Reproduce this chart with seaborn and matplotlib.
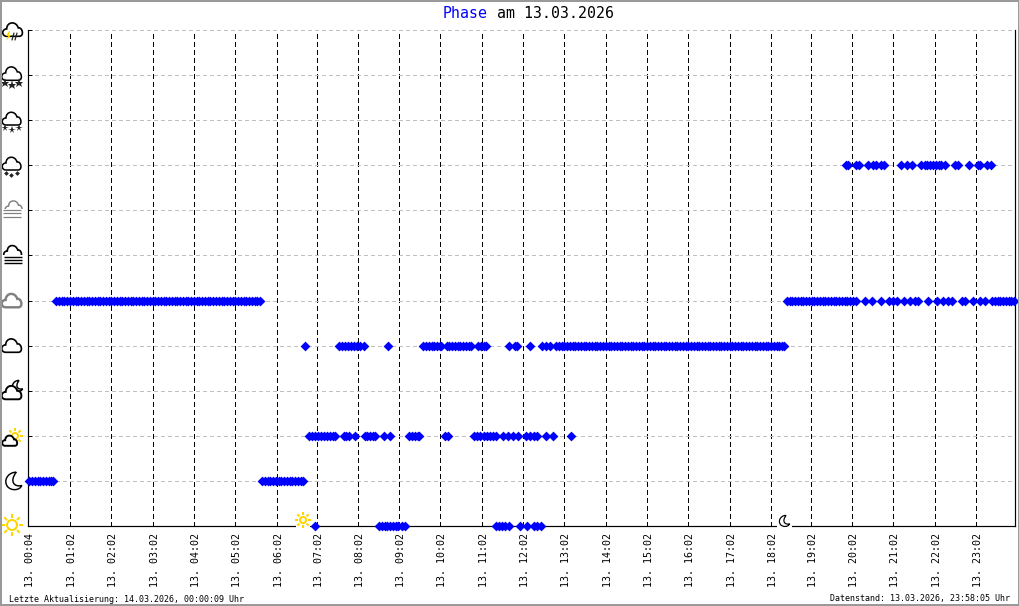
import numpy as np
import pandas as pd
import matplotlib
matplotlib.use("Agg")
import matplotlib.pyplot as plt
from matplotlib.path import Path
from matplotlib.patches import PathPatch, Circle, Polygon, Rectangle
from matplotlib.transforms import ScaledTranslation
import seaborn as sns

# x is minutes of the day, y is the index of the weather phase (0 = sun ... 11 = thunderstorm)
level_0 = [421, 514, 518, 522, 526, 530, 534, 538, 542, 547, 551, 684, 688, 692, 697, 702,
           718, 729, 739, 743, 749]
level_1 = [6, 10, 14, 18, 22, 26, 30, 34, 38, 41, 344, 348, 352, 356, 360, 364, 368, 372, 376,
           380, 384, 388, 392, 396, 400, 403]
level_2 = [412, 416, 421, 425, 429, 434, 438, 442, 447, 450, 463, 466, 470, 479, 493, 497, 501,
           505, 508, 521, 530, 557, 562, 566, 570, 572, 609, 614, 652, 656, 660, 666, 670, 675,
           679, 684, 694, 701, 708, 715, 727, 733, 739, 743, 756, 766, 792]
level_4 = [406, 456, 460, 464, 469, 473, 477, 482, 486, 492, 527, 578, 582, 586, 590, 594, 598,
           602, 604, 612, 616, 620, 624, 628, 632, 636, 640, 644, 647, 657, 662, 666, 669, 702,
           711, 714, 733, 750, 756, 762, 771, 775, 779, 783, 787, 791, 795, 799, 803, 807, 811,
           815, 819, 823, 827, 831, 835, 839, 843, 847, 851, 855, 859, 863, 867, 871, 875, 879,
           883, 887, 891, 895, 899, 903, 907, 911, 915, 919, 923, 927, 931, 935, 939, 943, 947,
           951, 955, 959, 963, 967, 971, 975, 979, 983, 987, 991, 995, 999, 1003, 1007, 1011,
           1015, 1019, 1023, 1027, 1031, 1035, 1039, 1043, 1047, 1051, 1055, 1059, 1063, 1067,
           1071, 1075, 1079, 1083, 1087, 1091, 1095, 1099, 1102]
level_5 = [45, 49, 53, 57, 61, 65, 69, 73, 77, 81, 85, 89, 93, 97, 101, 105, 109, 113, 117, 121,
           125, 129, 133, 137, 141, 145, 149, 153, 157, 161, 165, 169, 173, 177, 181, 185, 189,
           193, 197, 201, 205, 209, 213, 217, 221, 225, 229, 233, 237, 241, 245, 249, 253, 257,
           261, 265, 269, 273, 277, 281, 285, 289, 293, 297, 301, 305, 309, 313, 317, 321, 325,
           329, 333, 337, 341, 1106, 1110, 1114, 1118, 1122, 1126, 1130, 1134, 1138, 1142, 1146,
           1150, 1154, 1158, 1162, 1166, 1170, 1174, 1178, 1182, 1186, 1190, 1194, 1198, 1202,
           1206, 1219, 1229, 1243, 1254, 1260, 1266, 1276, 1285, 1292, 1296, 1311, 1324, 1333,
           1340, 1346, 1360, 1365, 1376, 1386, 1394, 1404, 1408, 1412, 1416, 1420, 1424, 1428,
           1432, 1436]
level_8 = [1192, 1195, 1206, 1211, 1224, 1231, 1235, 1243, 1247, 1272, 1280, 1288, 1301, 1306,
           1310, 1314, 1318, 1322, 1327, 1330, 1335, 1350, 1354, 1370, 1383, 1386, 1396, 1402]

tick_pos = [4, 65, 124, 185, 245, 305, 366, 424, 483, 543, 602, 663, 723, 782, 843, 903, 962,
            1023, 1083, 1141, 1201, 1260, 1321, 1381]
tick_labels = ["13. 00:04", "13. 01:02", "13. 02:02", "13. 03:02", "13. 04:02", "13. 05:02",
               "13. 06:02", "13. 07:02", "13. 08:02", "13. 09:02", "13. 10:02", "13. 11:02",
               "13. 12:02", "13. 13:02", "13. 14:02", "13. 15:02", "13. 16:02", "13. 17:02",
               "13. 18:02", "13. 19:02", "13. 20:02", "13. 21:02", "13. 22:02", "13. 23:02"]

W, H = 1020, 606
PX = 72 / 100
GOLD = "#ffd500"
MONO = "DejaVu Sans Mono"

sns.set_theme(style="white")
plt.rcParams["font.family"] = [MONO]
plt.rcParams["lines.antialiased"] = False

frames = []
for lev, vals in [(0, level_0), (1, level_1), (2, level_2), (4, level_4), (5, level_5), (8, level_8)]:
    frames.append(pd.DataFrame({"minute": vals, "level": lev}))
df = pd.concat(frames)

fig = plt.figure(figsize=(W / 100, H / 100), dpi=100, facecolor="white")
ax = fig.add_axes([28 / W, 1 - 526 / H, 987.5 / W, 496 / H])

sns.scatterplot(data=df, x="minute", y="level", marker="D", s=25, color="#0000ff",
                linewidth=0, clip_on=False, zorder=4, antialiased=False, ax=ax)

ax.set_xlim(4, 1438)
ax.set_ylim(0, 11)
ax.set_yticks(range(12))
ax.set_yticklabels([])
ax.set_xticks(tick_pos)
ax.set_xticklabels(tick_labels, rotation=90, fontsize=7.2, family=MONO, color="black")
ax.set_xlabel("")
ax.set_ylabel("")
ax.tick_params(axis="x", length=0, pad=5)
ax.tick_params(axis="y", direction="in", length=3, width=PX, color="black", left=True)
offset = ScaledTranslation(2 / 100, 0, fig.dpi_scale_trans)
for lab in ax.get_xticklabels():
    lab.set_transform(lab.get_transform() + offset)

ax.grid(axis="y", color="#c0c0c0", linewidth=PX, linestyle=(0, (3, 3)), zorder=1)
ax.grid(axis="x", color="black", linewidth=PX, linestyle=(0, (5, 4)), zorder=1)
ax.set_axisbelow(True)
ax.spines["top"].set_visible(False)
for side in ["left", "right", "bottom"]:
    ax.spines[side].set_color("black")
    ax.spines[side].set_linewidth(1.2 * PX)

# overlay in pixel coordinates for the title, footer and the weather icons
ov = fig.add_axes([0, 0, 1, 1], zorder=10)
ov.set_xlim(0, W)
ov.set_ylim(H, 0)
ov.axis("off")
ov.patch.set_alpha(0)


def cloud(cx, cy, color="black", lw=1.5, s=1.0):
    v = [(-6, 6), (-11, 6), (-11, -1), (-6, -1), (-6, -8), (3, -9), (5, -2), (9, -3), (11, 6),
         (6, 6), (6, 6), (-6, 6), (-6, 6)]
    c = [Path.MOVETO] + [Path.CURVE4] * 12
    v = [(cx + x * s, cy + y * s) for x, y in v]
    ov.add_patch(PathPatch(Path(v, c), fc="white", ec=color, lw=lw * PX * 1.2, zorder=3))


def sun(cx, cy, r=5, ray=4):
    ov.add_patch(Circle((cx, cy), r, fc="white", ec=GOLD, lw=2 * PX, zorder=2))
    for a in np.arange(8) * np.pi / 4:
        ov.plot([cx + (r + 2) * np.cos(a), cx + (r + 2 + ray) * np.cos(a)],
                [cy + (r + 2) * np.sin(a), cy + (r + 2 + ray) * np.sin(a)],
                color=GOLD, lw=2 * PX, zorder=2, solid_capstyle="butt", antialiased=True)


def moon(cx, cy, s=1.0, lw=1.2):
    v = [(3, -8), (-5, -8), (-9, 0), (-5, 5), (-2, 9), (6, 9), (8, 4), (2, 6), (-4, 1), (3, -8)]
    c = [Path.MOVETO] + [Path.CURVE4] * 9
    v = [(cx + x * s, cy + y * s) for x, y in v]
    ov.add_patch(PathPatch(Path(v, c), fc="white", ec="black", lw=lw * PX * 1.2, zorder=3))


def dots(cx, cy, offs, size=2.2, marker="o"):
    for dx, dy in offs:
        ov.plot(cx + dx, cy + dy, marker=marker, ms=size, color="#222222", mew=0, zorder=4,
                antialiased=True)


def stripes(cx, ys, color, lw):
    for y in ys:
        ov.plot([cx - 9, cx + 9], [y, y], color=color, lw=lw * PX, zorder=4, solid_capstyle="butt",
                antialiased=True)


# sun / moon / mixed phases
sun(12, 525, r=5, ray=4)
moon(13, 481, s=1.1)
sun(15, 436, r=3, ray=3)
cloud(10, 441, lw=1.6, s=0.8)
moon(17, 386, s=0.7)
cloud(12, 393, lw=1.6, s=1.05)
cloud(12, 346, lw=1.4, s=1.05)
cloud(12, 301, color="#808080", lw=2.0, s=1.05)
# fog
cloud(13, 252, lw=1.4, s=0.95)
ov.add_patch(Rectangle((2, 255), 22, 12, fc="white", ec="none", zorder=3.5))
stripes(13, [257, 260, 263], "black", 1.4)
cloud(14, 207, color="#808080", lw=1.2, s=0.9)
ov.add_patch(Rectangle((2, 209), 22, 12, fc="white", ec="none", zorder=3.5))
stripes(12, [210, 213, 217], "#808080", 1.2)
# precipitation
cloud(12, 164, lw=1.3, s=1.0)
dots(12, 164, [(-6, 9), (-1, 11), (5, 9)], marker="D", size=2.4)
cloud(12, 119, lw=1.3, s=1.0)
dots(12, 119, [(-7, 9), (0, 11), (7, 9)], marker="*", size=5.5)
cloud(12, 74, lw=1.3, s=1.05)
dots(12, 74, [(-7, 9), (0, 11), (7, 9)], marker="*", size=6.5)
cloud(13, 30, lw=1.4, s=1.05)
ov.add_patch(Polygon([(9, 31), (6, 36), (8, 36), (6, 41), (11, 35), (9, 35), (10, 31)], fc=GOLD, ec="none", zorder=5))
for dx in [3, 6]:
    ov.plot([11 + dx, 9 + dx], [33, 40], color="#222222", lw=1.2 * PX, zorder=5, antialiased=True)

# sunrise / sunset markers inside the plot, on a white patch that breaks the baseline
ov.add_patch(Rectangle((296, 514), 14, 13.5, fc="white", ec="none", zorder=1))
sun(303, 520, r=3, ray=3)
ov.add_patch(Rectangle((777, 514), 15, 13.5, fc="white", ec="none", zorder=1))
moon(784, 521, s=0.7, lw=1.0)

ov.text(443, 13, "Phase", color="#0000ff", fontsize=10.7, family=MONO, ha="left", va="center")
ov.text(497, 13, "am 13.03.2026", color="black", fontsize=10.7, family=MONO, ha="left", va="center")
ov.text(9, 599, "Letzte Aktualisierung: 14.03.2026, 00:00:09 Uhr", fontsize=6, family=MONO,
        ha="left", va="center", color="black")
ov.text(1010, 599, "Datenstand: 13.03.2026, 23:58:05 Uhr", fontsize=6, family=MONO,
        ha="right", va="center", color="black")
ov.add_patch(Rectangle((0.5, 0.5), W - 1.5, H - 1.5, fc="none", ec="#999999", lw=2 * PX, zorder=20))

fig.savefig("out.png", dpi=100)
plt.close(fig)
